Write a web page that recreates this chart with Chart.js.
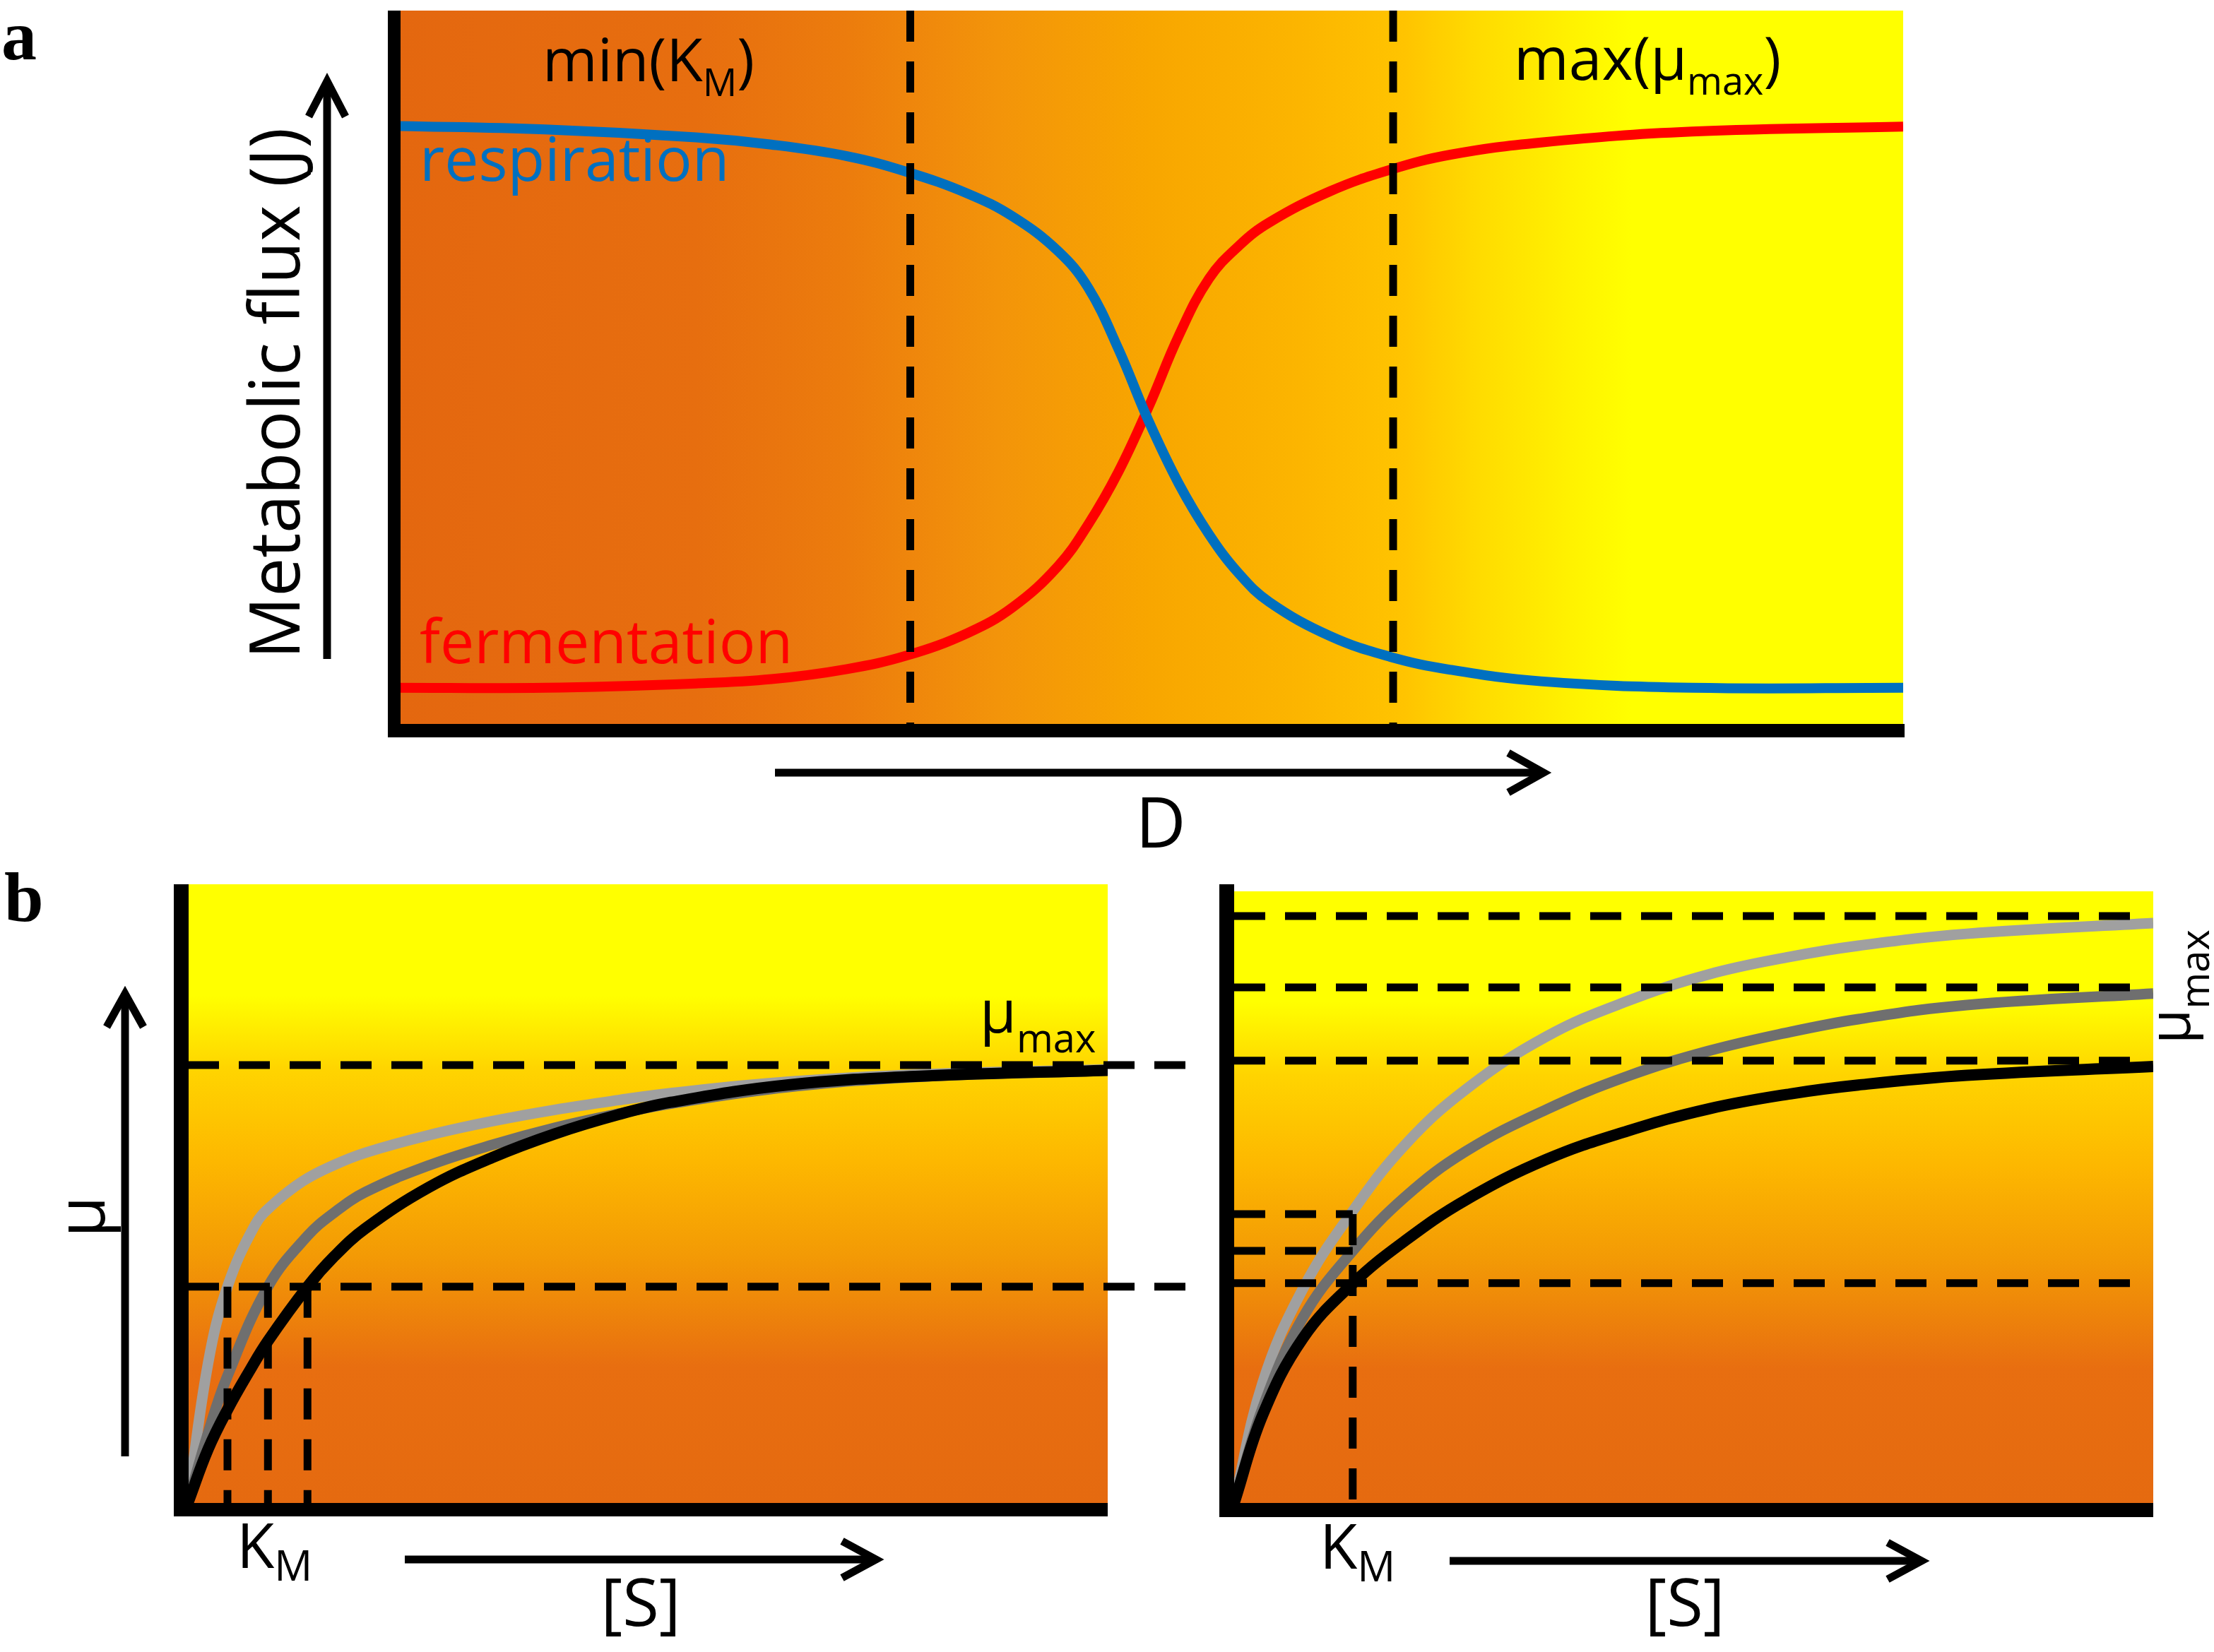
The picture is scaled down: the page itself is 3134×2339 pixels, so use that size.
<!DOCTYPE html>
<html>
<head>
  <title>Metabolic flux and growth kinetics</title>
  <script src="https://cdn.jsdelivr.net/npm/chart.js"></script>
  <style>
    body {
      margin: 0;
      background: #fff;
    }
    #page {
      position: relative;
      width: 3134px;
      height: 2339px;
      overflow: hidden;
    }
    canvas {
      position: absolute;
    }
    #fluxChart { left: 0; top: 0; }
    #leftChart { left: 0; top: 1200px; }
    #rightChart { left: 1720px; top: 1200px; }
    svg {
      position: absolute;
      left: 0;
      top: 0;
    }
    svg text {
      font-family: "Open Sans", sans-serif;
      fill: #000;
    }
    svg text.panel {
      font-family: "Liberation Serif", serif;
      font-weight: bold;
    }
  </style>
</head>
<body>
<div id="page">
  <canvas id="fluxChart" width="3134" height="1200"></canvas>
  <canvas id="leftChart" width="1720" height="1139"></canvas>
  <canvas id="rightChart" width="1414" height="1139"></canvas>

  <svg width="3134" height="2339">
    <!-- arrows -->
    <g stroke="#000" stroke-width="11" fill="none" stroke-linejoin="miter">
      <line x1="463" y1="933" x2="463" y2="118"/>
      <polyline points="437,165 463,115 489,165"/>
      <line x1="1097" y1="1094" x2="2182" y2="1094"/>
      <polyline points="2135,1066 2185,1094 2135,1122"/>
      <line x1="177" y1="2062" x2="177" y2="1410"/>
      <polyline points="151,1454 177,1407 203,1454"/>
      <line x1="573" y1="2208" x2="1238" y2="2208"/>
      <polyline points="1192,2182 1240,2208 1192,2234"/>
      <line x1="2052" y1="2210" x2="2718" y2="2210"/>
      <polyline points="2672,2184 2720,2210 2672,2236"/>
    </g>

    <!-- panel a -->
    <text class="panel" x="2" y="84" font-size="100">a</text>
    <text x="768" y="115" font-size="84">min(K<tspan font-size="54" dy="21">M</tspan><tspan dy="-21">)</tspan></text>
    <text x="2143" y="113" font-size="84">max(μ<tspan font-size="54" dy="21">max</tspan><tspan dy="-21">)</tspan></text>
    <text x="594" y="256" font-size="86" style="fill:#0070c0">respiration</text>
    <text x="594" y="939" font-size="86" style="fill:#ff0000">fermentation</text>
    <text transform="translate(424,933) rotate(-90)" font-size="98">Metabolic flux (J)</text>
    <text x="1643" y="1200" font-size="98" text-anchor="middle">D</text>

    <!-- panel b -->
    <text class="panel" x="6" y="1304" font-size="100">b</text>
    <text transform="translate(148,1752) rotate(-90)" font-size="95">μ</text>
    <text x="1387" y="1462" font-size="84">μ<tspan font-size="56" dy="28">max</tspan></text>
    <text x="335" y="2220" font-size="87">K<tspan font-size="60" dy="18">M</tspan></text>
    <text x="907" y="2302" font-size="94" text-anchor="middle">[S]</text>
    <text x="1868" y="2221" font-size="87">K<tspan font-size="60" dy="18">M</tspan></text>
    <text x="2385" y="2302" font-size="94" text-anchor="middle">[S]</text>
    <text transform="translate(3100,1478) rotate(-90)" font-size="80">μ<tspan font-size="56" dy="27">max</tspan></text>
  </svg>
</div>

<script>
  // ---- panel a: flux vs dilution rate D (both axes 0-100) ----
  const dValues = [0, 10, 20, 25, 30, 34, 38, 41, 44, 46, 48, 50, 52, 54, 56, 58, 62, 66, 70, 76, 86, 100];
  const respiration = [84, 83.5, 82.4, 81.4, 79.8, 77.6, 74.6, 71.4, 66.6, 61.5, 53.0, 43.0, 34.3, 27.3, 21.8, 17.9, 13.2, 10.3, 8.5, 6.9, 6.0, 6.0];
  const fermentation = [6.0, 6.0, 6.6, 7.2, 8.6, 10.5, 13.6, 17.2, 22.9, 28.7, 36.0, 45.0, 54.9, 62.8, 67.4, 70.6, 74.9, 77.9, 80.0, 81.7, 83.2, 83.9];
  const switchD = [34.2, 66.2];

  // ---- panel b left: same mu_max, different K_M ----
  const sLightLeft = [0, 2.2, 4.3, 7.3, 9.1, 12.5, 15.9, 19.3, 26.2, 33.1, 39.9, 46.8, 52.5, 65.3, 80, 100];
  const muLightLeft = [0, 0.32, 0.494, 0.635, 0.679, 0.735, 0.772, 0.800, 0.840, 0.872, 0.898, 0.920, 0.936, 0.962, 0.979, 0.99];
  const sDarkLeft = [0, 2.2, 4.3, 8.7, 13.0, 15.9, 19.3, 26.2, 33.1, 39.9, 46.8, 52.5, 65.3, 80, 100];
  const muDarkLeft = [0, 0.16, 0.29, 0.494, 0.61, 0.663, 0.71, 0.771, 0.818, 0.857, 0.889, 0.912, 0.950, 0.974, 0.988];
  const sBlackLeft = [0, 2.2, 4.3, 6.65, 8.7, 13.0, 15.9, 19.3, 26.2, 33.1, 39.9, 46.8, 52.5, 65.3, 80, 100];
  const muBlackLeft = [0, 0.123, 0.213, 0.30, 0.37, 0.494, 0.563, 0.627, 0.721, 0.789, 0.843, 0.887, 0.915, 0.955, 0.975, 0.988];
  const muMaxLeft = [1.0];
  const halfMuLeft = [0.494];
  const kmLeft = [4.3, 8.7, 13.0];

  // ---- panel b right: same K_M, different mu_max ----
  const sRight = [0, 3.1, 7.5, 12.9, 18.6, 25.2, 34.0, 42.8, 51.6, 60.5, 67.9, 79.7, 100];
  const muLightRight = [0, 0.272, 0.485, 0.66, 0.81, 0.935, 1.055, 1.135, 1.195, 1.235, 1.26, 1.287, 1.311];
  const muDarkRight = [0, 0.215, 0.42, 0.57, 0.692, 0.795, 0.89, 0.965, 1.022, 1.065, 1.094, 1.126, 1.152];
  const muBlackRight = [0, 0.199, 0.373, 0.496, 0.593, 0.685, 0.777, 0.841, 0.891, 0.925, 0.945, 0.967, 0.987];
  const muMaxRight = [1.327, 1.166, 1.0];
  const halfMuRight = [0.653, 0.57, 0.497];
  const kmRight = 12.9;

  const hGradient = [[0, '#e4670f'], [0.2, '#e76e0f'], [0.3, '#ec7c0d'], [0.4, '#f3940a'], [0.5, '#f8a600'],
                     [0.6, '#fcb500'], [0.67, '#ffc400'], [0.72, '#ffdc00'], [0.78, '#fff200'], [0.82, '#ffff00'], [1, '#ffff00']];
  const vGradient = [[0, '#ffff00'], [0.18, '#ffff00'], [0.3, '#ffd400'], [0.45, '#fdb700'], [0.6, '#f39a05'],
                     [0.78, '#e86e10'], [1, '#e56a10']];

  function curve(xs, ys, color, width) {
    return {
      data: xs.map((x, i) => ({ x: x, y: ys[i] })),
      borderColor: color,
      borderWidth: width,
      pointRadius: 0,
      fill: false,
      tension: 0.4
    };
  }

  function dashed(points) {
    return {
      data: points,
      borderColor: '#000',
      borderWidth: 11,
      borderDash: [44, 28],
      borderCapStyle: 'butt',
      pointRadius: 0,
      fill: false,
      tension: 0,
      clip: false
    };
  }

  // background gradient + thick black axes
  function panelPlugin(stops, vertical, ax) {
    return {
      id: 'panelDecor',
      beforeDatasetsDraw(chart) {
        const ctx = chart.ctx, a = chart.chartArea;
        const g = vertical ? ctx.createLinearGradient(0, a.top, 0, a.bottom)
                           : ctx.createLinearGradient(a.left, 0, a.right, 0);
        stops.forEach(s => g.addColorStop(s[0], s[1]));
        ctx.save();
        ctx.fillStyle = g;
        ctx.fillRect(a.left, a.top, a.right - a.left, a.bottom - a.top);
        ctx.restore();
      },
      afterDatasetsDraw(chart) {
        const ctx = chart.ctx, a = chart.chartArea;
        ctx.save();
        ctx.fillStyle = '#000';
        ctx.fillRect(a.left + ax.x0, a.top + ax.top, ax.w, a.bottom - a.top - ax.top + ax.b0 + ax.h);
        ctx.fillRect(a.left + ax.x0, a.bottom + ax.b0, a.right - a.left - ax.x0 + ax.r, ax.h);
        ctx.restore();
      }
    };
  }

  function options(pad, yMax, xMax) {
    return {
      responsive: false,
      animation: false,
      layout: { padding: pad },
      plugins: { legend: { display: false }, tooltip: { enabled: false } },
      scales: {
        x: { type: 'linear', min: 0, max: xMax, display: false },
        y: { type: 'linear', min: 0, max: yMax, display: false }
      }
    };
  }

  // panel a
  new Chart(document.getElementById('fluxChart'), {
    type: 'line',
    data: {
      datasets: switchD.map(d => dashed([{ x: d, y: 100 }, { x: d, y: 0 }])).concat([
        curve(dValues, respiration, '#0070c0', 14),
        curve(dValues, fermentation, '#ff0000', 14)
      ])
    },
    options: options({ left: 558, right: 440, top: 15, bottom: 165 }, 100, 100),
    plugins: [panelPlugin(hGradient, false, { x0: -9, w: 18, top: 0, b0: -10, h: 19, r: 2 })]
  });

  // panel b left
  const leftSets = [];
  muMaxLeft.concat(halfMuLeft).forEach(m => leftSets.push(dashed([{ x: 0, y: m }, { x: 110, y: m }])));
  kmLeft.forEach(k => leftSets.push(dashed([{ x: k, y: halfMuLeft[0] }, { x: k, y: 0 }])));
  leftSets.push(curve(sBlackLeft, muBlackLeft, '#000', 16));
  leftSets.push(curve(sDarkLeft, muDarkLeft, '#6f6f6f', 15));
  leftSets.push(curve(sLightLeft, muLightLeft, '#a0a0a0', 15));

  new Chart(document.getElementById('leftChart'), {
    type: 'line',
    data: { datasets: leftSets },
    options: options({ left: 266, right: 152, top: 52, bottom: 211 }, 1.413, 100),
    plugins: [panelPlugin(vGradient, true, { x0: -20, w: 21, top: 0, b0: 0, h: 19, r: 0 })]
  });

  // panel b right
  const rightSets = [];
  muMaxRight.forEach(m => rightSets.push(dashed([{ x: 0, y: m }, { x: 99, y: m }])));
  rightSets.push(dashed([{ x: 0, y: halfMuRight[2] }, { x: 99, y: halfMuRight[2] }]));
  halfMuRight.slice(0, 2).forEach(m => rightSets.push(dashed([{ x: 0, y: m }, { x: kmRight, y: m }])));
  rightSets.push(dashed([{ x: kmRight, y: halfMuRight[0] }, { x: kmRight, y: 0 }]));
  rightSets.push(curve(sRight, muBlackRight, '#000', 16));
  rightSets.push(curve(sRight, muDarkRight, '#6f6f6f', 15));
  rightSets.push(curve(sRight, muLightRight, '#a0a0a0', 15));

  new Chart(document.getElementById('rightChart'), {
    type: 'line',
    data: { datasets: rightSets },
    options: options({ left: 27, right: 86, top: 62, bottom: 211 }, 1.383, 100),
    plugins: [panelPlugin(vGradient, true, { x0: -21, w: 21, top: -10, b0: 0, h: 20, r: 0 })]
  });
</script>
</body>
</html>
